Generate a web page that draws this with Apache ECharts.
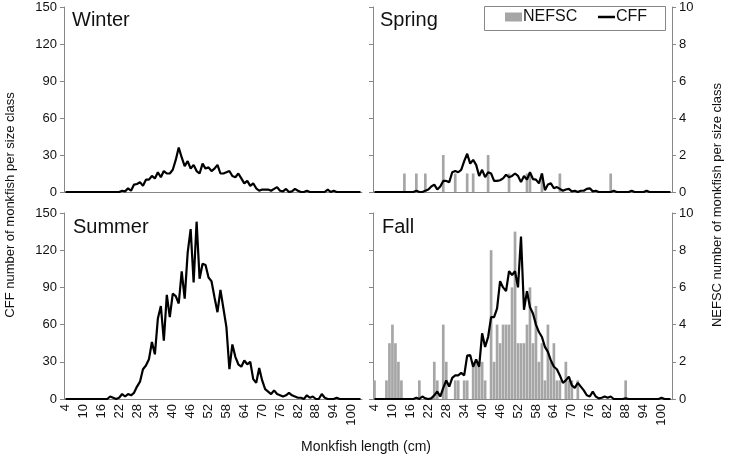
<!DOCTYPE html>
<html><head><meta charset="utf-8">
<script src="https://cdn.jsdelivr.net/npm/echarts@6/dist/echarts.min.js"></script>
<style>html,body{margin:0;padding:0;background:#fff}#c{width:729px;height:460px}</style>
</head><body><div id="c"></div>
<script>
// Size classes (cm): 4..103
const categories = [];
for (let k = 4; k <= 103; k++) categories.push(String(k));

const cffTicks = [0, 30, 60, 90, 120, 150];
const nefscTicks = [0, 2, 4, 6, 8, 10];

const winterCFF = [
  0,0,0,0,0,0,0,0,0,0,
  0,0,0,0,0,0,0,0,0,1,
  0.5,3,1,6,6.5,8,5,10,10,13,
  11,16,12,17,15,15,18,26,36,28,
  21,25,19,22,17,15,23,19,20,17,
  19,22,15,15,16,17,13,12,15,11,
  7,9,5,7,3,1,2,2,2,1,
  2.5,4,1,0.5,2.5,0,0.5,2.5,1,0,
  0,1,0,0,0,0,0,0,2,0,
  1,0,0,0,0,0,0,0,0,0
];
const springCFF = [
  0,0,0,0,0,0,0,0,0,0,
  0,0,0,0,1,0,0,1,2,4.5,
  6,2,4.5,9,9,8,16,17,16,18,
  25,31,23,26,22,13,18,12,16,15,
  9,9,9.5,11,14,12,13,15,13,8,
  13,10,16,10.5,10,7,15,1.5,6,7,
  3,4,2.5,1,2,2.5,0.5,1,0,1,
  1,2.5,3,0.5,1,0,0,0,0,0,
  1,0,0,0,0,0,1,0,0,0,
  0,1,0,0,0,0,0,0,0,0
];
const springNEFSC = [
  0,0,0,0,0,0,0,0,0,0,
  1,0,0,0,1,0,0,1,0,0,
  0,0,0,2,0,0,0,1,0,0,
  0,1,0,1,0,0,0,0,2,0,
  0,0,0,0,0,1,0,0,0,0,
  0,1,1,0,0,0,1,0,0,0,
  0,0,1,0,0,0,0,0,0,0,
  0,0,0,0,0,0,0,0,0,1,
  0,0,0,0,0,0,0,0,0,0,
  0,0,0,0,0,0,0,0,0,0
];
const summerCFF = [
  0,0,0,0,0,0,0,0,0,0,
  0,0,0,0,0,2,1,0,1,4,
  2,4,3,5,10,14,24,27,32,46,
  36,65,75,47,84,66,85,83,77,103,
  81,118,137,94,143,97,109,108,98,95,
  82,70,88,73,58,24,44,34,28,26,
  31,28,30,16,13,25,15,8,6,4,
  7,4,3,2,3,5,3,2,1,1,
  0,3,1,2,0,0,4,1,0,0,
  0,1,0,0,0,0,0,0,0,0
];
const fallCFF = [
  0,0,0,0,0,0,0,0,0,0,
  0,0,0,0,1,0,2,0.5,0,0.5,
  3,6,2,9,15,10,17,19,19,21,
  19,35,35.5,26,32,26,53,42,50,66,
  66,73,95,90,87,103,100,103,90,131,
  72,87,74,69,60,54,50,42,38,31,
  26,24,19,13,15,18,11,9,13,10,
  7,3,2,6,2,0.5,1,2,1,2,
  0,0,0,0,0.5,0,0,0,0,0,
  0,0,0,0,0,0,1,0,0,0
];
const fallNEFSC = [
  1,0,0,0,1,3,4,3,2,1,
  0,0,0,0,0,1,0,0,0,0,
  2,1,0,4,2,0,0,1,1,0,
  1,1,0,2,2,2,2,1,0,8,
  2,4,3,4,4,4,6,9,3,3,
  3,4,6,3,5,2,3,1,4,2,
  3,1,1,0,2,1,1,0,1,0,
  0,0,0,0,0,0,0,0,0,0,
  0,0,0,0,1,0,0,0,0,0,
  0,0,0,0,0,0,0,0,0,0
];

const FONT = 'Liberation Sans, Arial, sans-serif';
const AX = '#878787';
const grids = [
  {left: 64, top: 7, width: 298, height: 185},
  {left: 373, top: 7, width: 299, height: 185},
  {left: 64, top: 213, width: 298, height: 186},
  {left: 373, top: 213, width: 299, height: 186}
];
function xAx(i, labels) {
  return {
    type: 'category', gridIndex: i, data: categories, boundaryGap: true,
    axisLine: {show: true, lineStyle: {color: AX, width: 1}},
    axisTick: {show: false},
    axisLabel: {show: labels, rotate: 90, interval: 5, fontSize: 13, color: '#111', fontFamily: FONT, margin: 5},
    splitLine: {show: false}
  };
}
function yAx(i, pos, max, interval, labels) {
  return {
    type: 'value', gridIndex: i, position: pos, min: 0, max: max, interval: interval,
    axisLine: {show: true, lineStyle: {color: AX, width: 1}},
    axisTick: {show: true, length: 4, lineStyle: {color: AX}},
    axisLabel: {show: labels, fontSize: 13, color: '#111', fontFamily: FONT, margin: 7},
    splitLine: {show: false}
  };
}
const lineStyle = {color: '#000', width: 2.2};
function lineSeries(name, x, y, data) {
  return {name: name, type: 'line', xAxisIndex: x, yAxisIndex: y, data: data, symbol: 'none',
    lineStyle: lineStyle, itemStyle: {color: '#000'}, z: 5};
}
function barSeries(name, x, y, data) {
  return {name: name, type: 'bar', xAxisIndex: x, yAxisIndex: y, data: data,
    barCategoryGap: '10%', itemStyle: {color: '#a6a6a6'}, z: 2};
}
const legendText = {fontSize: 16, color: '#111', fontFamily: FONT, padding: [0, 0, 0, -4]};
const option = {
  animation: false,
  backgroundColor: '#fff',
  textStyle: {fontFamily: FONT},
  grid: grids,
  xAxis: [xAx(0, false), xAx(1, false), xAx(2, true), xAx(3, true)],
  yAxis: [
    yAx(0, 'left', 150, 30, true),
    yAx(1, 'left', 150, 30, false),
    yAx(1, 'right', 10, 2, true),
    yAx(2, 'left', 150, 30, true),
    yAx(3, 'left', 150, 30, false),
    yAx(3, 'right', 10, 2, true)
  ],
  legend: [
    {left: 505, top: 9, padding: 0, itemWidth: 17, itemHeight: 9, icon: 'rect',
      textStyle: legendText, data: ['NEFSC'], z: 10},
    {left: 598, top: 9, padding: 0, itemWidth: 17, itemHeight: 2.5, icon: 'rect',
      textStyle: legendText, data: ['CFF'], z: 10}
  ],
  series: [
    lineSeries('CFF', 0, 0, winterCFF),
    barSeries('NEFSC', 1, 2, springNEFSC),
    lineSeries('CFF', 1, 1, springCFF),
    lineSeries('CFF', 2, 3, summerCFF),
    barSeries('NEFSC', 3, 5, fallNEFSC),
    lineSeries('CFF', 3, 4, fallCFF)
  ],
  graphic: [
    {type: 'rect', z: 8, shape: {x: 484.5, y: 6.5, width: 181, height: 24},
      style: {fill: '#fff', stroke: '#888', lineWidth: 1}},
    {type: 'text', left: 72, top: 10, style: {text: 'Winter', fontSize: 20, fill: '#111', fontFamily: FONT}},
    {type: 'text', left: 380, top: 10, style: {text: 'Spring', fontSize: 20, fill: '#111', fontFamily: FONT}},
    {type: 'text', left: 73, top: 217, style: {text: 'Summer', fontSize: 20, fill: '#111', fontFamily: FONT}},
    {type: 'text', left: 382, top: 217, style: {text: 'Fall', fontSize: 20, fill: '#111', fontFamily: FONT}},
    {type: 'text', x: 10, y: 205, rotation: Math.PI / 2,
      style: {text: 'CFF number of monkfish per size class', fontSize: 13, fill: '#111', fontFamily: FONT, align: 'center', verticalAlign: 'middle'}},
    {type: 'text', x: 717, y: 205, rotation: Math.PI / 2,
      style: {text: 'NEFSC number of monkfish per size class', fontSize: 13, fill: '#111', fontFamily: FONT, align: 'center', verticalAlign: 'middle'}},
    {type: 'text', x: 366, y: 447,
      style: {text: 'Monkfish length (cm)', fontSize: 14, fill: '#111', fontFamily: FONT, align: 'center', verticalAlign: 'middle'}}
  ]
};
const chart = echarts.init(document.getElementById('c'), null, {renderer: 'canvas'});
chart.setOption(option);
</script></body></html>
